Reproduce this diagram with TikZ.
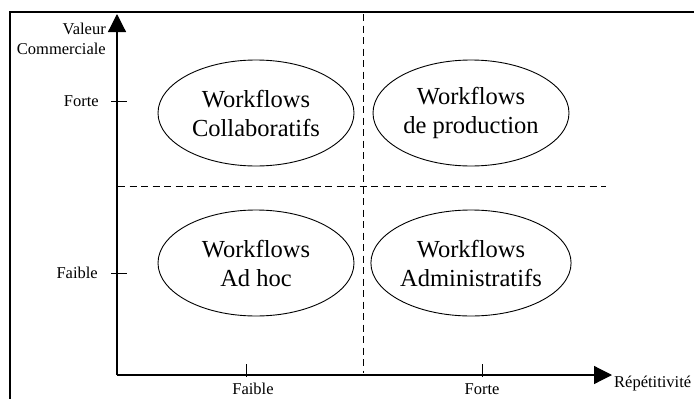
\documentclass[tikz,border=0pt]{standalone}
\usepackage{fontspec}
\setmainfont{Liberation Serif}
\usetikzlibrary{arrows.meta,shapes.geometric}
\begin{document}
\begin{tikzpicture}[x=1pt,y=-1pt,
  axis/.style={line width=1.2pt},
  bigarrow/.style={-{Triangle[length=18pt,width=18pt]}},
  quadline/.style={line width=0.9pt,dash pattern=on 7pt off 4.5pt},
  wf/.style={ellipse,draw,line width=0.9pt,minimum width=196pt,minimum height=106pt,inner sep=0pt,align=center,font=\fontsize{24.5}{29}\selectfont},
  lbl/.style={font=\fontsize{16.5}{20}\selectfont,inner sep=0pt},
  tick/.style={line width=1pt}]
\useasboundingbox (0,0) rectangle (694,399);
\draw[line width=1.2pt] (10,399) -- (10,12) -- (694,12);
% axes
\coordinate (O) at (117,375);
\coordinate (ytip) at (117,14);
\coordinate (xtip) at (612,375);
\draw[axis,bigarrow] (O) -- (ytip);
\draw[axis,bigarrow] (O) -- (xtip);
% quadrant lines
\coordinate (vtop) at (363,14);
\coordinate (vbot) at (363,373);
\coordinate (hl) at (118,186);
\coordinate (hr) at (606,186);
\draw[quadline] (vtop) -- (vbot);
\draw[quadline] (hl) -- (hr);
% ticks
\coordinate (ty1a) at (111,101); \coordinate (ty1b) at (127,101);
\coordinate (ty2a) at (111,273); \coordinate (ty2b) at (127,273);
\coordinate (tx1a) at (246,364); \coordinate (tx1b) at (246,377);
\coordinate (tx2a) at (482,364); \coordinate (tx2b) at (482,377);
\draw[tick] (ty1a) -- (ty1b);
\draw[tick] (ty2a) -- (ty2b);
\draw[tick] (tx1a) -- (tx1b);
\draw[tick] (tx2a) -- (tx2b);
% labels
\node[lbl,align=right,anchor=east] (ylab) at (106,39) {Valeur\\Commerciale};
\node[lbl,anchor=east] (yforte) at (99,101) {Forte};
\node[lbl,anchor=east] (yfaible) at (98,273) {Faible};
\node[lbl] (xfaible) at (253,389) {Faible};
\node[lbl] (xforte) at (482,389) {Forte};
\node[lbl,anchor=west] (xlab) at (614,384) {Répétitivité};
% ellipses
\node[wf] (collab) at (256,113) {Workflows\\Collaboratifs};
\node[wf] (prod) at (471,113) {Workflows\\de production};
\node[wf] (adhoc) at (256,263) {Workflows\\Ad hoc};
\node[wf] (admin) at (471,263) {Workflows\\Administratifs};
\end{tikzpicture}
\end{document}
